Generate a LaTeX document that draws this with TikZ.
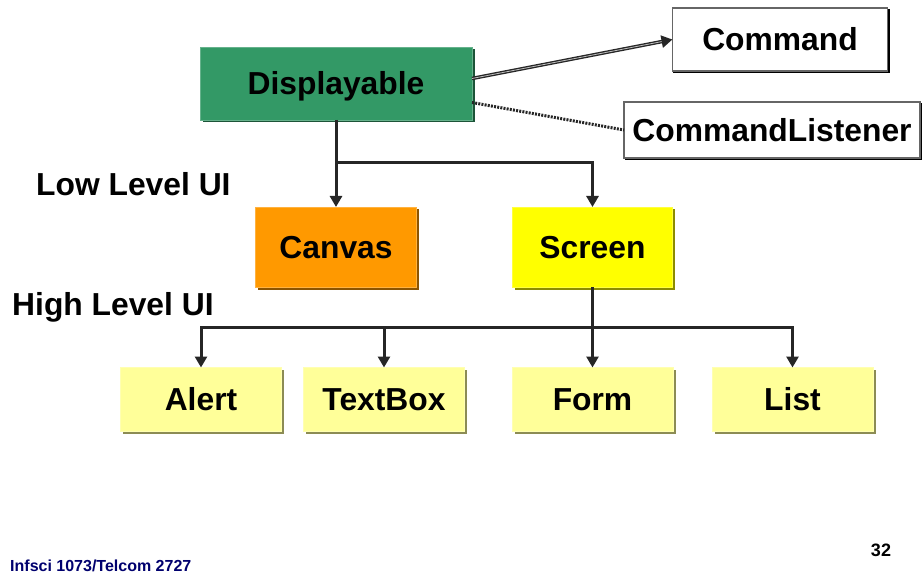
\documentclass[tikz,border=0pt]{standalone}
\usepackage{fontspec}
\setmainfont{Liberation Sans}
\usetikzlibrary{arrows.meta}

\definecolor{dispgreen}{RGB}{51,153,102}
\definecolor{canvasorange}{RGB}{255,153,0}
\definecolor{screenyellow}{RGB}{255,255,0}
\definecolor{paleyellow}{RGB}{255,255,153}
\definecolor{footerblue}{RGB}{0,0,110}

\tikzset{
  box/.style={rectangle, inner sep=0pt, outer sep=0pt,
    font=\fontsize{31.8}{38}\selectfont\bfseries, text=black,
    text height=23.6pt, text depth=1pt},
  solidbox/.style={box, fill=#1, draw=#1!75!white, line width=0.8pt,
    preaction={fill=#1!55!black, transform canvas={xshift=2.5pt,yshift=-2.5pt}}},
  outlinebox/.style={box, fill=white, draw=black!60, line width=1.8pt,
    preaction={draw=black, line width=1.8pt, transform canvas={xshift=1.5pt,yshift=-1.5pt}}},
  levellabel/.style={anchor=west, inner sep=0pt, font=\fontsize{31.8}{38}\selectfont\bfseries,
    text height=23.6pt, text depth=1pt},
  treeline/.style={draw=black!85, line width=3pt},
  treearrow/.style={treeline, -{Triangle[length=11pt,width=12pt]}},
}

\begin{document}
\begin{tikzpicture}[x=1pt,y=-1pt]
  \useasboundingbox (0,0) rectangle (922,583);

  % class boxes
  \node[solidbox=dispgreen, minimum width=272pt, minimum height=73pt] (disp) at (336,83.5) {Displayable};
  \node[outlinebox, minimum width=215pt, minimum height=63pt] (cmd) at (780,39.5) {Command};
  \node[outlinebox, minimum width=296pt, minimum height=56pt] (cl) at (772,130) {CommandListener};
  \node[solidbox=canvasorange, minimum width=161pt, minimum height=80pt] (canvas) at (336,247) {Canvas};
  \node[solidbox=screenyellow, minimum width=160pt, minimum height=80pt] (screen) at (592.5,247) {Screen};
  \node[solidbox=paleyellow, minimum width=161pt, minimum height=64pt] (alert) at (201,399.5) {Alert};
  \node[solidbox=paleyellow, minimum width=161pt, minimum height=64pt] (textbox) at (384,399.5) {TextBox};
  \node[solidbox=paleyellow, minimum width=161pt, minimum height=64pt] (form) at (592.5,399.5) {Form};
  \node[solidbox=paleyellow, minimum width=161pt, minimum height=64pt] (list) at (792.5,399.5) {List};

  % level labels
  \node[levellabel] (low) at (36,184) {Low Level UI};
  \node[levellabel] (high) at (12,304) {High Level UI};

  % Displayable uses Command and CommandListener
  \draw[draw=black!85, line width=3.5pt, -{Triangle[length=11pt,width=12pt]}]
    ([yshift=5pt]disp.east) -- (cmd.west);
  \draw[draw=black!25, line width=0.8pt, shorten >=11pt]
    ([yshift=5pt]disp.east) -- (cmd.west);
  \draw[draw=black!85, line width=3pt, dash pattern=on 2pt off 1.2pt]
    ([yshift=-19pt]disp.east) -- (cl.west);

  % first level of the hierarchy
  \coordinate (j1) at (disp.south |- 0,162.5);
  \draw[treearrow] (disp.south) -- (canvas.north);
  \draw[treearrow] (j1) -| (screen.north);

  % second level of the hierarchy
  \coordinate (j2) at (screen.south |- 0,327);
  \draw[treearrow] (screen.south) -- (form.north);
  \draw[treeline] (alert.north |- j2) -- (list.north |- j2);
  \draw[treearrow] (j2) -| (alert.north);
  \draw[treearrow] (j2) -| (textbox.north);
  \draw[treearrow] (j2) -| (list.north);

  % footer
  \node[anchor=west, inner sep=0pt, text=footerblue, font=\fontsize{16}{18}\selectfont\bfseries] (course) at (10,566) {Infsci 1073/Telcom 2727};
  \node[inner sep=0pt, font=\fontsize{18}{20}\selectfont\bfseries] (page) at (881,550) {32};
\end{tikzpicture}
\end{document}
